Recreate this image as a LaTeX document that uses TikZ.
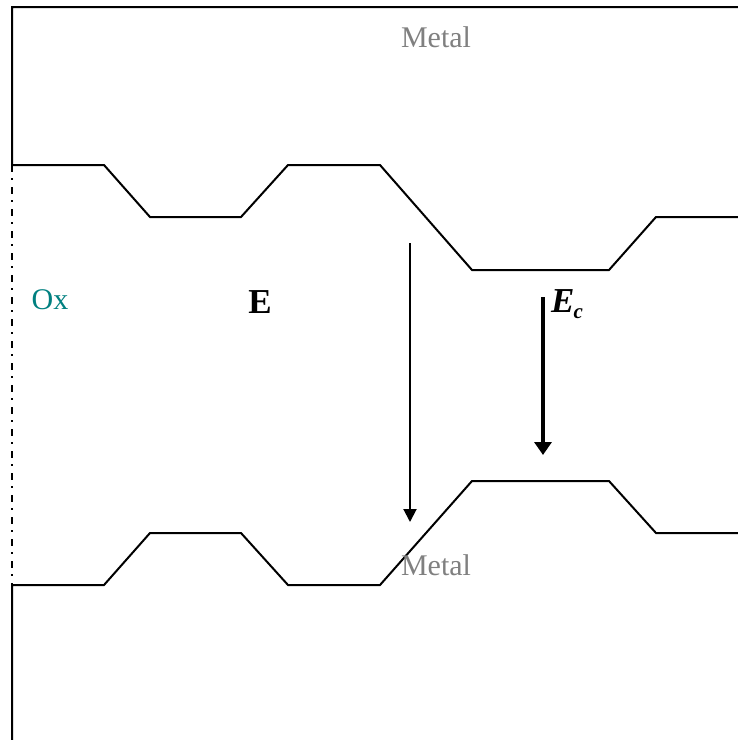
\documentclass[tikz,border=0pt]{standalone}
\usepackage{fontspec}
\setmainfont{Liberation Serif}
\usetikzlibrary{arrows.meta}
\definecolor{metalgray}{RGB}{128,128,128}
\definecolor{oxteal}{RGB}{0,128,128}
\tikzset{
  wall/.style={line width=2pt, line join=miter},
  dashdot/.style={line width=2pt, dash pattern=on 7pt off 6pt on 2pt off 7pt},
  thinarrow/.style={line width=2pt, -{Triangle[width=13pt,length=13pt]}},
  thickarrow/.style={line width=4.5pt, -{Triangle[width=17pt,length=13pt]}},
  lbl/.style={font=\fontsize{30}{36}\selectfont, inner sep=0pt},
  biglbl/.style={font=\fontsize{35}{42}\selectfont, inner sep=0pt}
}
\begin{document}
\begin{tikzpicture}[x=1pt,y=-1pt]
\useasboundingbox (0,0) rectangle (738,740);
% top metal
\coordinate (tl) at (12,7);
\coordinate (tr) at (738,7);
\coordinate (t0) at (12,165);
\draw[wall] (tr) -- (tl) -- (t0) -- (104,165) -- (150,217) -- (241,217) -- (288,165) -- (380,165) -- (472,270) -- (609,270) -- (656,217) -- (738,217);
% bottom metal
\coordinate (b0) at (12,585);
\coordinate (bl) at (12,740);
\draw[wall] (bl) -- (b0) -- (104,585) -- (150,533) -- (241,533) -- (288,585) -- (380,585) -- (472,481) -- (609,481) -- (656,533) -- (738,533);
% oxide edge
\draw[dashdot] (t0) -- (b0);
% arrows
\coordinate (a1s) at (410,243);
\coordinate (a1e) at (410,522);
\draw[thinarrow] (a1s) -- (a1e);
\coordinate (a2s) at (543,297);
\coordinate (a2e) at (543,455);
\draw[thickarrow] (a2s) -- (a2e);
% labels
\node[lbl, text=metalgray] (mtop) at (436,37) {Metal};
\node[lbl, text=metalgray] (mbot) at (436,565) {Metal};
\node[lbl, text=oxteal] (ox) at (50,300) {Ox};
\node[biglbl, anchor=base] (e) at (260,313) {\textbf{E}};
\node[biglbl, anchor=base west] (ec) at (551,312) {\textbf{\textit{E\kern-1pt}}\raisebox{-6pt}{\fontsize{21}{25}\selectfont\textbf{\textit{c}}}};
\end{tikzpicture}
\end{document}
